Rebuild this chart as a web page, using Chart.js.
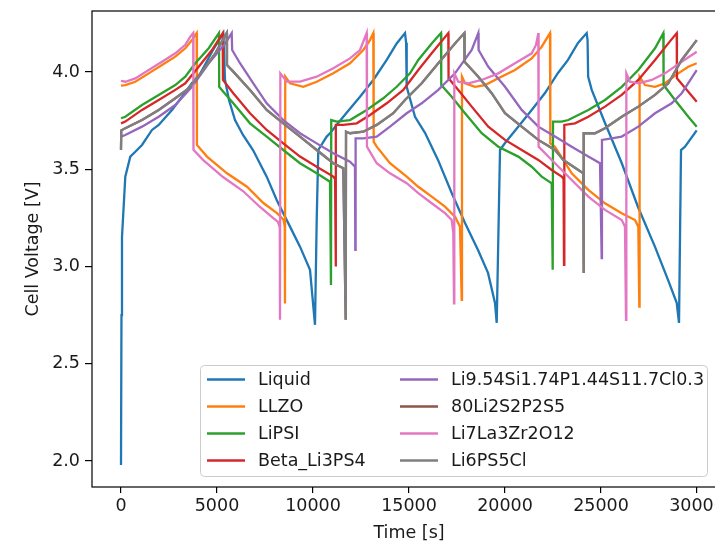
<!DOCTYPE html>
<html>
<head>
<meta charset="utf-8">
<script src="https://cdn.jsdelivr.net/npm/chart.js@4/dist/chart.umd.min.js"></script>
<style>
  html, body { margin: 0; padding: 0; background: #fff; overflow: hidden; }
  canvas { display: block; }
</style>
</head>
<body>
<canvas id="voltageChart" width="745" height="541"></canvas>
<script>
// cell voltage traces, [time s, voltage V]
const liquid = [[0,1.98],[25,2.75],[52,3.152],[224,3.462],[484,3.565],[745,3.59],[1094,3.625],[1615,3.702],[1964,3.728],[2656,3.805],[3177,3.873],[3698,3.943],[4115,3.99],[4792,4.113],[5328,4.2],[5417,3.959],[5625,3.856],[5938,3.753],[6354,3.676],[6875,3.599],[7589,3.462],[8109,3.342],[8802,3.205],[9323,3.102],[9844,2.983],[10104,2.7],[10193,3.239],[10276,3.599],[10714,3.668],[10885,3.685],[11578,3.77],[12448,3.873],[13141,3.959],[13839,4.062],[14359,4.147],[14792,4.2],[14850,4.15],[14880,3.924],[15313,3.77],[15833,3.687],[16510,3.548],[17224,3.378],[17917,3.224],[18594,3.085],[19115,2.967],[19479,2.813],[19568,2.71],[19740,3.599],[20000,3.635],[20677,3.717],[21391,3.805],[22083,3.892],[22760,3.995],[23281,4.062],[23802,4.149],[24255,4.2],[24300,4.164],[24330,3.976],[24516,3.908],[25208,3.738],[26078,3.532],[26927,3.306],[27813,3.101],[28490,2.931],[28943,2.813],[29063,2.71],[29167,3.599],[29375,3.616],[29985,3.7]];

const llzo = [[0,3.93],[224,3.933],[745,3.95],[1443,3.993],[2135,4.036],[2828,4.079],[3349,4.122],[3698,4.164],[3940,4.2],[3955,3.625],[4479,3.565],[5521,3.479],[6563,3.41],[7431,3.325],[8125,3.274],[8472,3.239],[8530,3.2],[8541,2.81],[8555,3.976],[8802,3.942],[9495,3.924],[10193,3.95],[11057,3.993],[11927,4.045],[12620,4.113],[12969,4.164],[13141,4.2],[13160,3.642],[13318,3.616],[14010,3.531],[14880,3.462],[15484,3.41],[16182,3.359],[16875,3.308],[17396,3.256],[17656,3.205],[17745,2.828],[17760,3.976],[17917,3.942],[18438,3.924],[18958,3.933],[19651,3.968],[20521,4.01],[21391,4.07],[21911,4.13],[22344,4.2],[22360,3.633],[22604,3.616],[23474,3.479],[24339,3.394],[25208,3.325],[26078,3.274],[26771,3.239],[26943,3.205],[26995,2.794],[27010,3.976],[27292,3.933],[27813,3.924],[28333,3.942],[29026,3.993],[29547,4.027],[29985,4.045]];

const lipsi = [[0,3.762],[224,3.77],[1094,3.83],[1964,3.882],[2828,3.933],[3349,3.976],[3870,4.045],[4568,4.122],[5104,4.2],[5115,3.924],[5328,3.899],[5849,3.839],[6719,3.736],[7589,3.668],[8453,3.599],[9323,3.531],[10193,3.479],[10885,3.436],[10937,2.905],[10950,3.753],[11234,3.745],[11927,3.753],[12796,3.805],[13661,3.865],[14359,3.924],[15052,3.993],[15484,4.062],[16182,4.147],[16667,4.2],[16680,3.933],[17224,3.873],[17917,3.788],[18786,3.685],[19651,3.616],[20693,3.565],[21391,3.513],[21911,3.462],[22432,3.428],[22484,2.983],[22500,3.745],[22953,3.745],[23297,3.753],[24339,3.805],[25208,3.856],[26078,3.924],[26943,4.01],[27813,4.122],[28245,4.2],[28260,3.933],[28854,3.856],[29547,3.77],[29985,3.719]];

const betaLi3ps4 = [[0,3.736],[224,3.745],[1094,3.805],[1964,3.856],[2828,3.908],[3349,3.942],[4047,4.027],[4740,4.113],[5297,4.2],[5310,3.959],[5849,3.891],[6719,3.788],[7589,3.702],[8453,3.633],[9323,3.565],[10193,3.513],[11057,3.462],[11150,3.45],[11182,3.0],[11195,3.728],[11578,3.728],[12276,3.736],[12969,3.779],[13839,3.839],[14703,3.908],[15484,4.01],[16182,4.096],[17047,4.2],[17060,3.968],[17568,3.908],[18266,3.822],[19130,3.719],[20000,3.651],[20870,3.599],[21735,3.548],[22432,3.496],[22953,3.462],[23050,3.45],[23073,3.008],[23090,3.728],[23646,3.736],[24339,3.77],[25208,3.822],[26078,3.882],[26943,3.959],[27813,4.062],[28505,4.147],[28943,4.2],[28955,3.968],[29547,3.899],[29985,3.847]];

const li954 = [[0,3.668],[224,3.676],[1094,3.719],[1964,3.77],[2828,3.83],[3698,3.924],[4568,4.045],[5432,4.147],[5766,4.2],[5790,4.113],[6198,4.045],[6890,3.942],[7589,3.839],[8453,3.753],[9323,3.685],[10193,3.633],[11057,3.582],[11927,3.539],[12187,3.513],[12203,3.085],[12220,3.659],[12620,3.659],[13318,3.668],[14010,3.719],[14880,3.788],[15661,3.839],[16526,3.908],[17396,3.993],[18266,4.113],[18609,4.2],[18625,4.113],[19130,4.027],[20000,3.924],[20870,3.805],[21735,3.719],[22604,3.668],[23474,3.616],[24339,3.565],[24948,3.531],[25036,3.043],[25050,3.651],[25557,3.659],[26078,3.668],[26943,3.719],[27813,3.788],[28682,3.839],[29203,3.891],[29985,4.01]];

const li7la3zr2o12 = [[0,3.954],[224,3.95],[745,3.967],[1443,4.01],[2135,4.053],[2828,4.096],[3349,4.14],[3600,4.18],[3760,4.2],[3775,3.6],[4271,3.548],[5313,3.46],[6354,3.388],[7240,3.306],[7917,3.25],[8177,3.229],[8270,3.2],[8281,2.726],[8300,3.993],[8630,3.95],[9323,3.95],[10193,3.976],[11057,4.019],[11927,4.07],[12448,4.113],[12795,4.2],[12810,3.616],[13318,3.531],[14010,3.479],[14880,3.428],[15484,3.377],[16182,3.325],[16875,3.274],[17224,3.239],[17307,3.173],[17344,2.811],[17360,3.993],[17568,3.95],[18089,3.942],[18786,3.959],[19651,3.993],[20521,4.045],[21391,4.096],[21615,4.139],[21735,4.2],[21750,3.616],[22604,3.531],[23474,3.445],[24339,3.359],[25208,3.291],[26078,3.239],[26250,3.205],[26302,2.726],[26320,3.993],[26510,3.95],[26943,3.942],[27641,3.959],[28333,3.993],[29203,4.053],[29985,4.104]];

const li6ps5cl = [[0,3.6],[15,3.7],[224,3.711],[1094,3.753],[1964,3.805],[2828,3.865],[3526,3.916],[4219,4.002],[4911,4.096],[5505,4.2],[5520,4.036],[5849,4.002],[6719,3.908],[7589,3.805],[8453,3.736],[9323,3.668],[10193,3.599],[11057,3.531],[11578,3.505],[11703,2.726],[11720,3.693],[11927,3.685],[12620,3.693],[13318,3.728],[14182,3.788],[14792,3.856],[15661,3.942],[16526,4.045],[17396,4.147],[17880,4.2],[17895,4.053],[18609,3.976],[19307,3.891],[20000,3.788],[20870,3.719],[21735,3.651],[22604,3.599],[23036,3.548],[23818,3.496],[24078,3.479],[24090,2.966],[24105,3.685],[24688,3.685],[25208,3.711],[26078,3.77],[26943,3.822],[27813,3.882],[28505,3.942],[29203,4.062],[29985,4.164]];

// 80Li2S2P2S5 sits exactly under the Li6PS5Cl trace
const li2sP2s5 = li6ps5cl.map(p => [p[0], p[1]]);

const seriesNames = ['Liquid', 'LLZO', 'LiPSI', 'Beta_Li3PS4', 'Li9.54Si1.74P1.44S11.7Cl0.3', '80Li2S2P2S5', 'Li7La3Zr2O12', 'Li6PS5Cl'];
const seriesData = [liquid, llzo, lipsi, betaLi3ps4, li954, li2sP2s5, li7la3zr2o12, li6ps5cl];
const seriesColors = ['#1f77b4', '#ff7f0e', '#2ca02c', '#d62728', '#9467bd', '#8c564b', '#e377c2', '#7f7f7f'];

const xTicks = [0, 5000, 10000, 15000, 20000, 25000, 30000];
const xTickLabels = ['0', '5000', '10000', '15000', '20000', '25000', '30000'];
const yTicks = [2.0, 2.5, 3.0, 3.5, 4.0];
const yTickLabels = ['2.0', '2.5', '3.0', '3.5', '4.0'];

Chart.defaults.font.family = 'DejaVu Sans';
Chart.defaults.font.size = 17.5;
Chart.defaults.color = '#1a1a1a';

// matplotlib-like frame and 2-column legend in the lower right
const frameAndLegend = {
  id: 'frameAndLegend',
  afterDraw(chart) {
    const ctx = chart.ctx;
    const a = chart.chartArea;
    ctx.save();
    ctx.strokeStyle = '#000';
    ctx.lineWidth = 1.2;
    ctx.strokeRect(a.left, a.top, a.right - a.left, a.bottom - a.top);

    const bx = 200.5, by = 365.5, bw = 507, bh = 111;
    ctx.beginPath();
    ctx.roundRect(bx, by, bw, bh, 4);
    ctx.fillStyle = 'rgba(255,255,255,0.8)';
    ctx.fill();
    ctx.strokeStyle = '#cccccc';
    ctx.lineWidth = 1;
    ctx.stroke();

    ctx.font = '17.5px "DejaVu Sans"';
    ctx.textBaseline = 'middle';
    ctx.textAlign = 'left';
    chart.data.datasets.forEach((ds, i) => {
      const col = Math.floor(i / 4);
      const row = i % 4;
      const lx = col ? 400 : 207;
      const ly = 379.5 + row * 27;
      ctx.strokeStyle = ds.borderColor;
      ctx.lineWidth = 2.3;
      ctx.beginPath();
      ctx.moveTo(lx, ly);
      ctx.lineTo(lx + 38, ly);
      ctx.stroke();
      ctx.fillStyle = '#1a1a1a';
      ctx.fillText(ds.label, lx + 51, ly + 1);
    });
    ctx.restore();
  }
};

const ctx = document.getElementById('voltageChart').getContext('2d');

new Chart(ctx, {
  type: 'line',
  data: {
    datasets: seriesNames.map((name, i) => ({
      label: name,
      data: seriesData[i].map(p => ({ x: p[0], y: p[1] })),
      borderColor: seriesColors[i],
      borderWidth: 2.3,
      pointRadius: 0,
      tension: 0,
      fill: false,
      order: seriesNames.length - i
    }))
  },
  options: {
    responsive: false,
    animation: false,
    layout: { padding: { top: 11, right: 19, left: 0, bottom: 0 } },
    plugins: {
      legend: { display: false },
      tooltip: { enabled: false }
    },
    scales: {
      x: {
        type: 'linear',
        min: -1510,
        max: 31510,
        afterFit: scale => { scale.height = 54; scale.paddingLeft = 0; scale.paddingRight = 0; },
        afterBuildTicks: scale => { scale.ticks = xTicks.map(v => ({ value: v })); },
        ticks: {
          padding: 3,
          maxRotation: 0,
          autoSkip: false,
          callback: (value, index) => xTickLabels[index]
        },
        grid: { drawOnChartArea: false, drawTicks: true, tickLength: 6, color: '#000', lineWidth: 1.2 },
        border: { display: false },
        title: { display: true, text: 'Time [s]', padding: { top: 0, bottom: -3 } }
      },
      y: {
        type: 'linear',
        min: 1.8663,
        max: 4.3136,
        afterFit: scale => { scale.width = 92; scale.paddingTop = 0; scale.paddingBottom = 0; },
        afterBuildTicks: scale => { scale.ticks = yTicks.map(v => ({ value: v })); },
        ticks: {
          padding: 5,
          autoSkip: false,
          callback: (value, index) => yTickLabels[index]
        },
        grid: { drawOnChartArea: false, drawTicks: true, tickLength: 7, color: '#000', lineWidth: 1.2 },
        border: { display: false },
        title: { display: true, text: 'Cell Voltage [V]', padding: { top: 23, bottom: 0 } }
      }
    }
  },
  plugins: [frameAndLegend]
});
</script>
</body>
</html>
